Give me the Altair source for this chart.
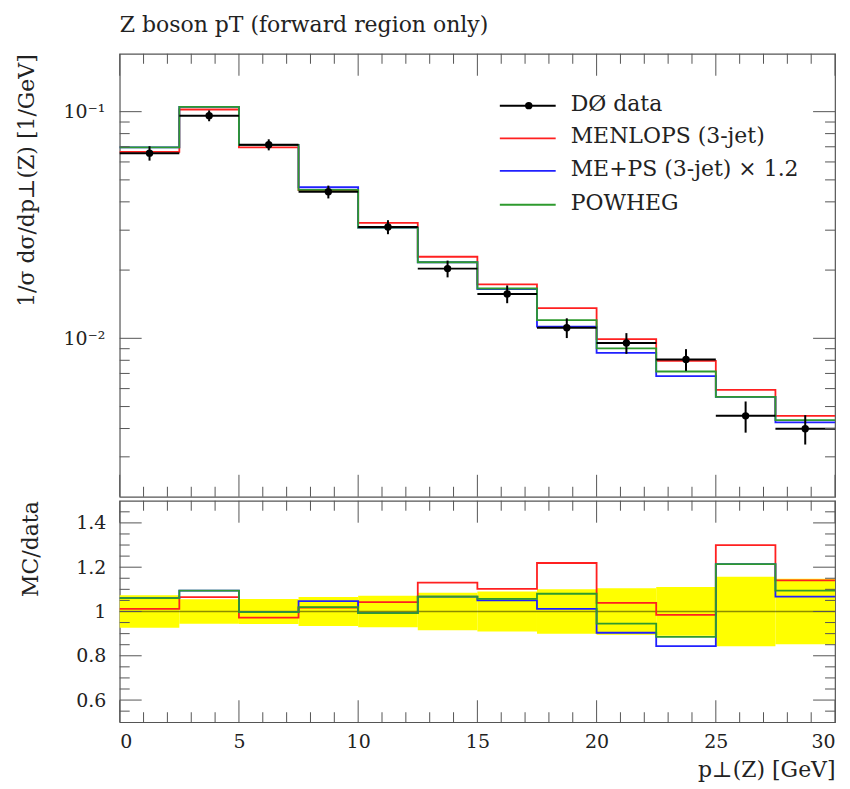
import altair as alt
import pandas as pd

# ---------------- data ----------------
bin_edges = [0.0, 2.5, 5.0, 7.5, 10.0, 12.5, 15.0, 17.5, 20.0, 22.5, 25.0, 27.5, 30.0]
data_vals = [0.0656, 0.0960, 0.0715, 0.0443, 0.0310, 0.0203, 0.0157, 0.01114,
             0.00954, 0.00807, 0.00455, 0.00399]
data_relerr = [0.073, 0.055, 0.056, 0.065, 0.071, 0.085, 0.090, 0.100,
               0.105, 0.110, 0.157, 0.148]
menlops = [0.0664, 0.1022, 0.0695, 0.0451, 0.0323, 0.0229, 0.0173, 0.01359,
           0.00992, 0.00795, 0.00592, 0.00455]
meps = [0.0695, 0.1050, 0.0713, 0.0464, 0.0308, 0.02166, 0.01649, 0.01127,
        0.00862, 0.00681, 0.00552, 0.00426]
powheg = [0.0695, 0.1050, 0.0713, 0.0452, 0.0308, 0.02166, 0.01659, 0.01203,
          0.00902, 0.00714, 0.00552, 0.00436]
ratio_menlops = [1.012, 1.065, 0.972, 1.017, 1.042, 1.130, 1.102, 1.219,
                 1.039, 0.985, 1.300, 1.140]
ratio_meps = [1.060, 1.094, 0.997, 1.047, 0.993, 1.067, 1.050, 1.012,
              0.904, 0.844, 1.214, 1.067]
ratio_powheg = [1.060, 1.094, 0.997, 1.020, 0.993, 1.067, 1.057, 1.080,
                0.945, 0.885, 1.214, 1.094]

series_names = ["MENLOPS (3-jet)", "ME+PS (3-jet) \u00d7 1.2", "POWHEG"]
series_colors = ["#ff2020", "#2020ff", "#2e9a2e"]
data_label = "D\u00d8 data"

title_text = "Z boson pT (forward region only)"
y_title = "1/\u03c3 d\u03c3/dp\u22a5(Z) [1/GeV]"
ratio_title = "MC/data"
x_title = "p\u22a5(Z) [GeV]"

x_major = [0, 5, 10, 15, 20, 25, 30]
x_minor = [v for v in range(31) if v % 5]
y_major = [0.01, 0.1]
y_major_labels = ["10\u207b\u00b2", "10\u207b\u00b9"]
y_minor = [0.003, 0.004, 0.005, 0.006, 0.007, 0.008, 0.009,
           0.02, 0.03, 0.04, 0.05, 0.06, 0.07, 0.08, 0.09]
r_major = [0.6, 0.8, 1.0, 1.2, 1.4]
r_minor = [0.55, 0.65, 0.7, 0.75, 0.85, 0.9, 0.95, 1.05, 1.1, 1.15,
           1.25, 1.3, 1.35, 1.45]

# ---------------- layout / style ----------------
W, H_TOP, H_RAT = 717, 444, 222
FONT = "DejaVu Serif"
TXT = "#222222"
TICK = "#555555"
MAJ, MIN = 22, 10
LW = 1.8

x_scale = alt.Scale(domain=[bin_edges[0], bin_edges[-1]], nice=False, zero=False)
y_scale = alt.Scale(type="log", domain=[0.002, 0.18], nice=False)
r_scale = alt.Scale(domain=[0.5, 1.5], nice=False, zero=False)

label_expr = " : ".join(
    f"datum.value < {v * 1.5} ? '{l}'" for v, l in zip(y_major, y_major_labels)
) + " : ''"

y_axis = alt.Axis(values=y_major, labelExpr=label_expr, ticks=False, domain=False,
                  grid=False, title=y_title, titleAnchor="end", labelPadding=15,
                  titlePadding=25)
r_axis = alt.Axis(values=r_major, format="~g", ticks=False, domain=False,
                  grid=False, title=ratio_title, titleAnchor="end", labelPadding=14,
                  titlePadding=33)
x_axis_r = alt.Axis(values=x_major, ticks=False, domain=False, grid=False,
                    title=x_title, titleAnchor="end", labelPadding=10,
                    titlePadding=8)

lo = bin_edges[:-1]
hi = bin_edges[1:]
centers = [(a + b) / 2 for a, b in zip(lo, hi)]


def step_df(vals):
    return pd.DataFrame({"x": bin_edges, "y": list(vals) + [vals[-1]]})


def step_layer(vals, color, scale, axis, xaxis):
    return alt.Chart(step_df(vals)).mark_line(
        interpolate="step-after", color=color, strokeWidth=LW
    ).encode(
        x=alt.X("x:Q", scale=x_scale, axis=xaxis),
        y=alt.Y("y:Q", scale=scale, axis=axis),
    )


def x_tick_layers(H, xaxis):
    out = []
    for vals, L in ((x_major, MAJ), (x_minor, MIN)):
        base = alt.Chart(pd.DataFrame({"t": vals})).mark_rule(color=TICK, strokeWidth=1)
        xe = alt.X("t:Q", scale=x_scale, axis=xaxis)
        out.append(base.encode(x=xe, y=alt.value(0), y2=alt.value(L)))
        out.append(base.encode(x=xe, y=alt.value(H - L), y2=alt.value(H)))
    return out


def y_tick_layers(majors, minors, scale, axis):
    out = []
    for vals, L in ((majors, MAJ), (minors, MIN)):
        base = alt.Chart(pd.DataFrame({"t": vals})).mark_rule(color=TICK, strokeWidth=1)
        ye = alt.Y("t:Q", scale=scale, axis=axis)
        out.append(base.encode(y=ye, x=alt.value(0), x2=alt.value(L)))
        out.append(base.encode(y=ye, x=alt.value(W - L), x2=alt.value(W)))
    return out


# ---------------- top panel ----------------
top_layers = []
for vals, col in zip([menlops, meps, powheg], series_colors):
    top_layers.append(step_layer(vals, col, y_scale, y_axis, None))

ddf = pd.DataFrame({
    "x": centers, "lo": lo, "hi": hi, "y": data_vals,
    "ylo": [v * (1 - e) for v, e in zip(data_vals, data_relerr)],
    "yhi": [v * (1 + e) for v, e in zip(data_vals, data_relerr)],
})
top_layers.append(alt.Chart(ddf).mark_rule(color="black", strokeWidth=2).encode(
    x=alt.X("lo:Q", scale=x_scale, axis=None), x2="hi:Q",
    y=alt.Y("y:Q", scale=y_scale, axis=y_axis)))
top_layers.append(alt.Chart(ddf).mark_rule(color="black", strokeWidth=2).encode(
    x=alt.X("x:Q", scale=x_scale, axis=None),
    y=alt.Y("ylo:Q", scale=y_scale, axis=y_axis), y2="yhi:Q"))
top_layers.append(alt.Chart(ddf).mark_circle(color="black", size=55, opacity=1).encode(
    x=alt.X("x:Q", scale=x_scale, axis=None),
    y=alt.Y("y:Q", scale=y_scale, axis=y_axis)))

top_layers += x_tick_layers(H_TOP, None)
top_layers += y_tick_layers(y_major, y_minor, y_scale, y_axis)

# legend (manual)
leg_names = [data_label] + series_names
leg_colors = ["black"] + series_colors
leg_y = [52, 84.7, 117.3, 151.3]
LX0, LX1, LDOT, LTX = 381, 437, 410, 452
for i, (nm, col) in enumerate(zip(leg_names, leg_colors)):
    one = pd.DataFrame({"name": [nm]})
    top_layers.append(alt.Chart(one).mark_rule(
        color=col, strokeWidth=(2 if i == 0 else LW)).encode(
        x=alt.value(LX0), x2=alt.value(LX1), y=alt.value(leg_y[i])))
    top_layers.append(alt.Chart(one).mark_text(
        align="left", baseline="middle", font=FONT, fontSize=22, color=TXT, dy=-2
    ).encode(x=alt.value(LTX), y=alt.value(leg_y[i]), text="name:N"))
top_layers.append(alt.Chart(pd.DataFrame({"name": [data_label]})).mark_circle(
    color="black", size=55, opacity=1).encode(x=alt.value(LDOT), y=alt.value(leg_y[0])))

top = alt.layer(*top_layers).properties(
    width=W, height=H_TOP,
    title=alt.TitleParams(title_text, anchor="start", frame="group", font=FONT,
                          fontSize=22, fontWeight="normal", color=TXT, offset=16),
)

# ---------------- ratio panel ----------------
bdf = pd.DataFrame({
    "lo": lo, "hi": hi,
    "blo": [1 - e for e in data_relerr],
    "bhi": [1 + e for e in data_relerr],
})
rat_layers = [alt.Chart(bdf).mark_rect(color="#ffff00").encode(
    x=alt.X("lo:Q", scale=x_scale, axis=x_axis_r), x2="hi:Q",
    y=alt.Y("blo:Q", scale=r_scale, axis=r_axis), y2="bhi:Q")]
rat_layers.append(alt.Chart(pd.DataFrame({"a": [bin_edges[0]], "b": [bin_edges[-1]], "r": [1.0]}))
                  .mark_rule(color="black", strokeWidth=1.5, opacity=0.45).encode(
    x=alt.X("a:Q", scale=x_scale, axis=x_axis_r), x2="b:Q",
    y=alt.Y("r:Q", scale=r_scale, axis=r_axis)))
for vals, col in zip([ratio_menlops, ratio_meps, ratio_powheg], series_colors):
    rat_layers.append(step_layer(vals, col, r_scale, r_axis, x_axis_r))
rat_layers += x_tick_layers(H_RAT, x_axis_r)
rat_layers += y_tick_layers(r_major, r_minor, r_scale, r_axis)

ratio = alt.layer(*rat_layers).properties(width=W, height=H_RAT)

chart = alt.vconcat(top, ratio, spacing=0).properties(
    padding={"left": 14, "top": 12, "right": 10, "bottom": 2}
).configure_view(stroke=TICK, strokeWidth=1.2).configure_axis(
    labelFont=FONT, labelFontSize=19, labelColor=TXT,
    titleFont=FONT, titleFontSize=22, titleFontWeight="normal", titleColor=TXT,
).configure_concat(spacing=0)

chart.save("out.html", embed_options={"renderer": "svg", "actions": False})
